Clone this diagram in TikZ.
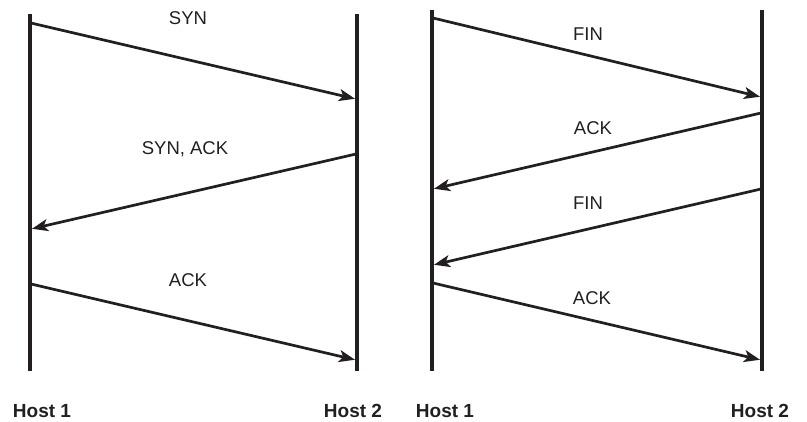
\documentclass[tikz,border=0pt]{standalone}
\usepackage{fontspec}
\setmainfont{Liberation Sans}
\usetikzlibrary{arrows.meta}
\definecolor{ink}{HTML}{231F20}
\tikzset{
  lifeline/.style={draw=ink, line width=3.2pt},
  msg/.style={draw=ink, line width=2.7pt, -{Stealth[length=16pt,width=12pt,inset=4pt]}, shorten >=1pt},
  msglabel/.style={text=ink, font=\fontsize{18.5}{20}\selectfont, inner sep=0pt},
  hostlabel/.style={text=ink, font=\bfseries\fontsize{19}{20}\selectfont, inner sep=0pt}
}
\begin{document}
\begin{tikzpicture}[x=1pt,y=-1pt]
\useasboundingbox[fill=white] (0,0) rectangle (807,421);
% left diagram lifelines
\coordinate (L1t) at (30,14); \coordinate (L1b) at (30,371);
\coordinate (L2t) at (357,14); \coordinate (L2b) at (357,371);
\draw[lifeline] (L1t) -- (L1b);
\draw[lifeline] (L2t) -- (L2b);
% right diagram lifelines
\coordinate (R1t) at (432,10); \coordinate (R1b) at (432,371);
\coordinate (R2t) at (762,10); \coordinate (R2b) at (762,371);
\draw[lifeline] (R1t) -- (R1b);
\draw[lifeline] (R2t) -- (R2b);
% left messages
\coordinate (a1s) at (31,23);  \coordinate (a1e) at (356,99);
\coordinate (a2s) at (356,154); \coordinate (a2e) at (31,229);
\coordinate (a3s) at (31,284); \coordinate (a3e) at (356,360);
\draw[msg] (a1s) -- (a1e);
\draw[msg] (a2s) -- (a2e);
\draw[msg] (a3s) -- (a3e);
\node[msglabel] (syn) at (188,18) {SYN};
\node[msglabel] (synack) at (185,149) {SYN, ACK};
\node[msglabel] (ack1) at (188,280) {ACK};
% right messages
\coordinate (b1s) at (433,18);  \coordinate (b1e) at (761,97);
\coordinate (b2s) at (761,113); \coordinate (b2e) at (433,189);
\coordinate (b3s) at (761,189); \coordinate (b3e) at (433,265);
\coordinate (b4s) at (433,283); \coordinate (b4e) at (761,360);
\draw[msg] (b1s) -- (b1e);
\draw[msg] (b2s) -- (b2e);
\draw[msg] (b3s) -- (b3e);
\draw[msg] (b4s) -- (b4e);
\node[msglabel] (fin1) at (588,34) {FIN};
\node[msglabel] (ack2) at (593,128) {ACK};
\node[msglabel] (fin2) at (588,203) {FIN};
\node[msglabel] (ack3) at (592,298) {ACK};
% host labels
\node[hostlabel] (h11) at (42,411) {Host 1};
\node[hostlabel] (h12) at (353,411) {Host 2};
\node[hostlabel] (h21) at (445,411) {Host 1};
\node[hostlabel] (h22) at (760,411) {Host 2};
\end{tikzpicture}
\end{document}
